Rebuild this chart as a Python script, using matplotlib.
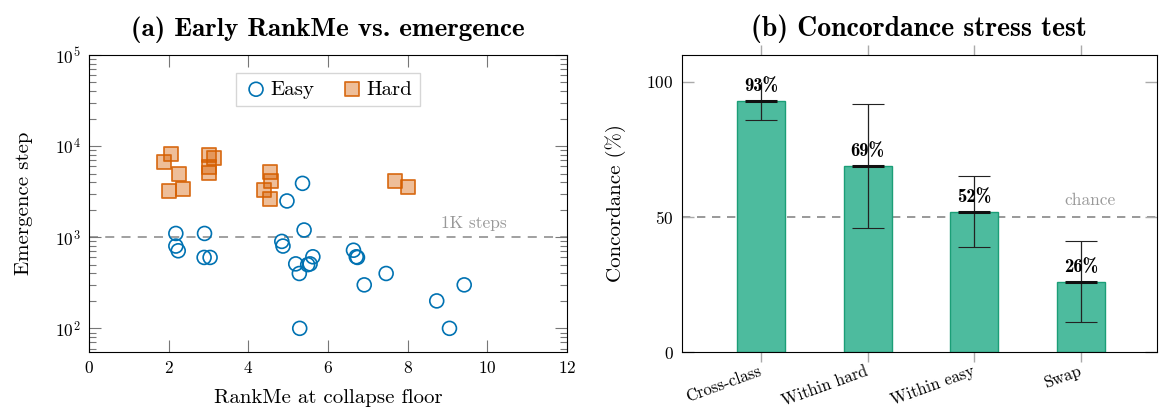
import matplotlib
matplotlib.use('Agg')
import matplotlib.pyplot as plt
import numpy as np

plt.rcParams['font.family'] = ['cmr10', 'DejaVu Serif']
plt.rcParams['mathtext.fontset'] = 'cm'
plt.rcParams['axes.unicode_minus'] = False
plt.rcParams['axes.formatter.use_mathtext'] = True

# panel (a): RankMe at collapse floor vs. emergence step
easy_rankme = [2.18, 2.90, 2.18, 2.24, 2.89, 3.04, 5.36, 4.97, 5.40, 4.84,
               4.87, 5.19, 5.28, 5.49, 5.55, 5.62, 6.64, 6.71, 6.74, 7.46,
               6.91, 5.29, 9.42, 8.73, 9.05]
easy_step = [1100, 1100, 800, 710, 600, 600, 3900, 2500, 1200, 900,
             800, 510, 400, 500, 510, 610, 720, 610, 600, 400,
             300, 100, 300, 200, 100]
hard_rankme = [2.06, 1.88, 2.26, 2.01, 2.35, 3.02, 3.15, 3.01, 3.02,
               4.55, 4.58, 4.40, 4.55, 7.68, 8.00]
hard_step = [8100, 6700, 5000, 3200, 3400, 8000, 7400, 5900, 5100,
             5250, 4100, 3300, 2600, 4100, 3600]

# panel (b): concordance per pair type with CI
pair_types = ['Cross-class', 'Within hard', 'Within easy', 'Swap']
concordance = [93, 69, 52, 26]
ci_low = [86, 46, 39, 11]
ci_high = [100, 92, 65, 41]

blue = '#0072B2'
green_face = '#4dbb9e'
green_edge = '#1b9e77'
tick_grey = '#777777'

fig = plt.figure(figsize=(11.59, 4.15), dpi=100)
ax1 = fig.add_axes([0.0768, 0.1518, 0.4124, 0.7157])
ax2 = fig.add_axes([0.5884, 0.1518, 0.4098, 0.7157])

# --- scatter ---
ax1.scatter(easy_rankme, easy_step, s=100, facecolors='none',
            edgecolors=blue, linewidths=1.2, marker='o', label='Easy', zorder=3)
ax1.scatter(hard_rankme, hard_step, s=105, marker='s',
            facecolors=(0.835, 0.369, 0.0, 0.4),
            edgecolors=(0.835, 0.369, 0.0, 0.85),
            linewidths=1.3, label='Hard', zorder=3)
ax1.axhline(1000, color='#999999', ls=(0, (5, 4)), lw=1.3, zorder=1)
ax1.annotate('1K steps', xy=(9.67, 1000), xytext=(0, 10),
             textcoords='offset points', ha='center', va='center',
             fontsize=12.5, color='#999999')

ax1.set_yscale('log')
ax1.set_xlim(0, 12)
ax1.set_ylim(55, 1e5)
ax1.set_xticks(np.arange(0, 13, 2))
ax1.tick_params(which='major', direction='in', length=8.5, width=0.8,
                color=tick_grey, top=True, right=True, labelsize=12.5, pad=6)
ax1.tick_params(which='minor', direction='in', length=5, width=0.8,
                color=tick_grey, top=True, right=True)
ax1.set_xlabel('RankMe at collapse floor', fontsize=15, labelpad=9)
ax1.set_ylabel('Emergence step', fontsize=15, labelpad=16)
ax1.set_title('(a) Early RankMe vs. emergence', fontfamily='cmb10',
              fontsize=19.5, pad=14)
leg = ax1.legend(loc='upper center', ncol=2, fontsize=15, frameon=True,
                 fancybox=False, edgecolor='#cccccc', handletextpad=0.1,
                 columnspacing=1.2, borderpad=0.35, handlelength=1.2,
                 bbox_to_anchor=(0.5, 0.975))
leg.get_frame().set_linewidth(1.0)

# --- bars ---
x = np.arange(len(pair_types))
ax2.bar(x, concordance, width=0.45, color=green_face, edgecolor=green_edge,
        linewidth=1.0, zorder=2)
yerr = [np.array(concordance) - np.array(ci_low),
        np.array(ci_high) - np.array(concordance)]
# whiskers plus a thick mark at the point estimate
ax2.errorbar(x, concordance, yerr=yerr, fmt='_', color='#111111',
             ecolor='#222222', elinewidth=0.9, capsize=0,
             markersize=23, markeredgewidth=2.2, zorder=3)
# caps; a bound sitting at the 100% ceiling gets none
lo = np.array(ci_low, dtype=float)
hi = np.array(ci_high, dtype=float)
ax2.plot(x, lo, ls='none', marker='_', ms=23, mew=0.8, color='#222222',
         zorder=3)
ax2.plot(x[hi < 100], hi[hi < 100], ls='none', marker='_', ms=23, mew=0.8,
         color='#222222', zorder=3)
for xi, v in zip(x, concordance):
    ax2.text(xi, v + 5.5, f'{v}%', ha='center', va='center',
             fontfamily='cmb10', fontsize=13.5, zorder=4)
ax2.axhline(50, color='#888888', ls=(0, (5, 4)), lw=1.2, zorder=1)
ax2.text(3.08, 56, 'chance', ha='center', va='center', fontsize=12.5,
         color='#999999')

ax2.set_xlim(-0.74, 3.71)
ax2.set_ylim(0, 110)
ax2.set_yticks([0, 50, 100])
ax2.set_xticks(x)
ax2.set_xticklabels(pair_types, rotation=20, ha='right', va='center',
                    rotation_mode='anchor', fontsize=12)
ax2.tick_params(axis='x', direction='out', length=7.5, width=1.0,
                color='#aaaaaa', top=True, pad=6)
ax2.tick_params(axis='y', direction='in', length=8.5, width=1.0,
                color='#aaaaaa', right=True, labelsize=12.5, pad=6)
ax2.set_ylabel('Concordance (%)', fontsize=15, labelpad=15)
ax2.set_title('(b) Concordance stress test', fontfamily='cmb10',
              fontsize=20, pad=14)

fig.savefig('out.png', dpi=100)
